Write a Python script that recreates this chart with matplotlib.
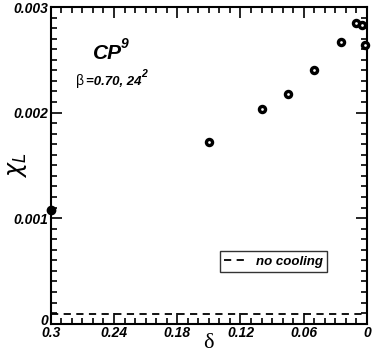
import matplotlib
matplotlib.use("Agg")
import matplotlib.pyplot as plt
import matplotlib.transforms as mtransforms
from matplotlib.ticker import MultipleLocator, FixedLocator

# data
delta = [0.3, 0.15, 0.1, 0.075, 0.05, 0.025, 0.01, 0.005, 0.0015]
chi = [0.00108, 0.00172, 0.00203, 0.00218, 0.0024, 0.00267, 0.00285, 0.00283, 0.00264]
chi_err = [0.00002, 0.00002, 0.00002, 0.00002, 0.00002, 0.00002, 0.00002, 0.00002, 0.00002]
no_cooling = 0.000095

x_ticks = [0.3, 0.24, 0.18, 0.12, 0.06, 0.0]
x_labels = ["0.3", "0.24", "0.18", "0.12", "0.06", "0"]
y_ticks = [0.0, 0.001, 0.002, 0.003]
y_labels = ["0", "0.001", "0.002", "0.003"]

plt.rcParams['font.family'] = ['Liberation Sans', 'DejaVu Sans']

fig = plt.figure(figsize=(3.74, 3.54), dpi=100)
ax = fig.add_axes([0.1356, 0.0856, 0.8457, 0.8946])

ax.axhline(no_cooling, color='black', ls=(0, (4, 3)), lw=1.3, label='no cooling')
# first point looks filled, the rest are open with the error bar inside
ax.errorbar(delta[:1], chi[:1], yerr=chi_err[:1], fmt='o', ms=6, mfc='black', mec='black', mew=1.0,
            ecolor='black', elinewidth=1.2, capsize=0, clip_on=False, zorder=5)
ax.errorbar(delta[1:], chi[1:], yerr=chi_err[1:], fmt='o', ms=4.4, mfc='white', mec='black', mew=2.4,
            ecolor='black', elinewidth=1.2, capsize=0, clip_on=False, zorder=5)

ax.set_xlim(0.3, 0.0)
ax.set_ylim(0.0, 0.003)
ax.xaxis.set_major_locator(FixedLocator(x_ticks))
ax.xaxis.set_minor_locator(MultipleLocator(0.01))
ax.yaxis.set_major_locator(FixedLocator(y_ticks))
ax.yaxis.set_minor_locator(MultipleLocator(0.0001))
ax.set_xticklabels(x_labels)
ax.set_yticklabels(y_labels)

ax.tick_params(which='both', direction='in', top=True, right=True, width=1.2)
ax.tick_params(which='major', length=8, labelsize=10, pad=2)
ax.tick_params(which='minor', length=4)
for lab in ax.get_xticklabels() + ax.get_yticklabels():
    lab.set_fontweight('bold')
    lab.set_fontstyle('italic')
for s in ax.spines.values():
    s.set_linewidth(1.5)

# the "0" on the y axis sits a bit higher, above the "0.3"
ylab0 = ax.get_yticklabels()[0]
ylab0.set_transform(ylab0.get_transform() + mtransforms.ScaledTranslation(0, 3 / 72, fig.dpi_scale_trans))

ax.set_xlabel('δ', fontsize=16, family=['Liberation Serif', 'DejaVu Serif'], labelpad=-5)
ax.set_ylabel(r'$\chi_L$', fontsize=17, labelpad=0)
ax.yaxis.set_label_coords(-0.07, 0.5)

ax.text(0.135, 0.835, 'CP', transform=ax.transAxes, fontsize=15,
        fontweight='bold', fontstyle='italic')
ax.text(0.222, 0.87, '9', transform=ax.transAxes, fontsize=10,
        fontweight='bold', fontstyle='italic')
ax.text(0.08, 0.755, 'β', transform=ax.transAxes, fontsize=10)
ax.text(0.111, 0.755, '=0.70, 24', transform=ax.transAxes, fontsize=9.5,
        fontweight='bold', fontstyle='italic')
ax.text(0.287, 0.778, '2', transform=ax.transAxes, fontsize=7.5,
        fontweight='bold', fontstyle='italic')

leg = ax.legend(loc='lower left', bbox_to_anchor=(0.513, 0.142), frameon=True, fancybox=False,
                handlelength=1.65, handletextpad=0.75, borderpad=0.35,
                prop={'weight': 'bold', 'style': 'italic', 'size': 9.5})
leg.get_frame().set_edgecolor('black')
leg.get_frame().set_linewidth(1.0)

fig.savefig('out.png', dpi=100)
